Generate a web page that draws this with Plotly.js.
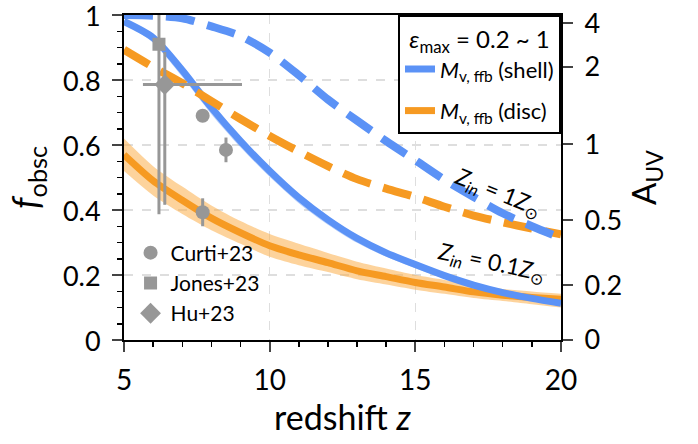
<!DOCTYPE html>
<html>
<head>
<meta charset="utf-8">
<script src="https://cdn.plot.ly/plotly-3.0.1.min.js"></script>
<style>
  html, body { margin: 0; padding: 0; background: #fff; }
  #chart { width: 698px; height: 444px; }
</style>
</head>
<body>
<div id="chart"></div>
<script>
// Redshift grid shared by all model curves
const redshift = [5, 6, 7, 8, 9, 10, 11, 12, 13, 14, 15, 16, 17, 18, 19, 20];

// Obscured fraction, shell geometry, Z_in = 0.1 Zsun (line and band)
const shellLowZ   = [0.980, 0.930, 0.830, 0.715, 0.612, 0.520, 0.438, 0.370, 0.313, 0.268, 0.232, 0.198, 0.169, 0.146, 0.128, 0.113];
const shellLowZLo = [0.975, 0.915, 0.810, 0.695, 0.593, 0.502, 0.421, 0.355, 0.299, 0.256, 0.221, 0.189, 0.161, 0.139, 0.122, 0.107];
const shellLowZHi = [0.985, 0.935, 0.835, 0.720, 0.617, 0.525, 0.443, 0.374, 0.317, 0.272, 0.236, 0.201, 0.172, 0.149, 0.130, 0.115];

// Obscured fraction, disc geometry, Z_in = 0.1 Zsun (line and band)
const discLowZ   = [0.570, 0.490, 0.430, 0.375, 0.330, 0.290, 0.262, 0.238, 0.213, 0.195, 0.177, 0.163, 0.148, 0.138, 0.131, 0.125];
const discLowZLo = [0.520, 0.445, 0.388, 0.338, 0.296, 0.256, 0.230, 0.209, 0.187, 0.171, 0.155, 0.142, 0.129, 0.120, 0.110, 0.100];
const discLowZHi = [0.620, 0.535, 0.472, 0.414, 0.366, 0.326, 0.296, 0.268, 0.241, 0.220, 0.200, 0.185, 0.169, 0.157, 0.149, 0.142];

// Obscured fraction, Z_in = 1 Zsun
const shellSolarZ = [1.000, 0.998, 0.990, 0.965, 0.935, 0.884, 0.815, 0.740, 0.675, 0.612, 0.553, 0.493, 0.440, 0.390, 0.350, 0.314];
const discSolarZ  = [0.893, 0.840, 0.790, 0.735, 0.680, 0.628, 0.580, 0.535, 0.495, 0.466, 0.440, 0.410, 0.383, 0.362, 0.343, 0.325];

// Observational constraints
const curtiZ = [7.7, 8.5, 7.7];
const curtiF = [0.69, 0.585, 0.393];
const curtiErr = [0.015, 0.038, 0.043];

const jonesZ = [6.2];
const jonesF = [0.91];
const jonesErrPlus = [0.15];
const jonesErrMinus = [0.523];

const huZ = [6.4];
const huF = [0.786];
const huZErrPlus = [2.65];
const huZErrMinus = [0.75];
const huErrPlus = [0.10];
const huErrMinus = [0.37];

// Axis ticks
const fTicks = [0, 0.2, 0.4, 0.6, 0.8, 1];
const fTickText = ['0', '0.2', '0.4', '0.6', '0.8', '1'];
const zTicks = [5, 10, 15, 20];
const auvTicks = [0, 0.2, 0.5, 1, 2, 4];
const auvTickText = ['0', '0.2', '0.5', '1', '2', '4'];

// Right axis: A_UV mapped onto f_obsc = 1 - 10^(-0.4 A_UV)
const auvTickPos = auvTicks.map(a => 1 - Math.pow(10, -0.4 * a));

const BLUE = '#5b92f6';
const ORANGE = '#f69a22';
const BLUE_BAND = 'rgba(91,146,246,0.45)';
const ORANGE_BAND = 'rgba(252,175,75,0.55)';
const GREY = '#979797';
const FONT = 'Lato, "Noto Sans", sans-serif';

function band(lo, hi, color) {
  return [
    { x: redshift, y: lo, mode: 'lines', line: { width: 0, shape: 'spline', smoothing: 0.8 },
      showlegend: false, hoverinfo: 'skip' },
    { x: redshift, y: hi, mode: 'lines', line: { width: 0, shape: 'spline', smoothing: 0.8 },
      fill: 'tonexty', fillcolor: color, showlegend: false, hoverinfo: 'skip' }
  ];
}

const traces = [
  ...band(discLowZLo, discLowZHi, ORANGE_BAND),
  ...band(shellLowZLo, shellLowZHi, BLUE_BAND),
  { x: redshift, y: discLowZ, mode: 'lines', name: '<i>M</i><sub>v, ffb</sub> (disc)',
    line: { color: ORANGE, width: 7, shape: 'spline', smoothing: 0.8 },
    legend: 'legend2', legendrank: 2, legendgroup: 'disc' },
  { x: redshift, y: shellLowZ, mode: 'lines', name: '<i>M</i><sub>v, ffb</sub> (shell)',
    line: { color: BLUE, width: 7, shape: 'spline', smoothing: 0.8 },
    legend: 'legend2', legendrank: 1, legendgroup: 'shell' },
  { x: redshift, y: discSolarZ, mode: 'lines', showlegend: false,
    line: { color: ORANGE, width: 8, dash: '29px,13px', shape: 'spline', smoothing: 0.8 } },
  { x: redshift, y: shellSolarZ, mode: 'lines', showlegend: false,
    line: { color: BLUE, width: 8, dash: '29px,13px', shape: 'spline', smoothing: 0.8 } },
  { x: curtiZ, y: curtiF, mode: 'markers', name: 'Curti+23', legendrank: 1,
    marker: { symbol: 'circle', size: 14, color: GREY },
    error_y: { type: 'data', array: curtiErr, color: GREY, thickness: 3, width: 0 } },
  { x: jonesZ, y: jonesF, mode: 'markers', name: 'Jones+23', legendrank: 2,
    marker: { symbol: 'square', size: 13, color: GREY },
    error_y: { type: 'data', symmetric: false, array: jonesErrPlus, arrayminus: jonesErrMinus,
               color: GREY, thickness: 3, width: 0 } },
  { x: huZ, y: huF, mode: 'markers', name: 'Hu+23', legendrank: 3,
    marker: { symbol: 'diamond', size: 16, color: GREY },
    error_x: { type: 'data', symmetric: false, array: huZErrPlus, arrayminus: huZErrMinus,
               color: GREY, thickness: 3, width: 0 },
    error_y: { type: 'data', symmetric: false, array: huErrPlus, arrayminus: huErrMinus,
               color: GREY, thickness: 3, width: 0 } },
  // carries the right-hand A_UV axis
  { x: [null], y: [null], yaxis: 'y2', mode: 'lines', showlegend: false, hoverinfo: 'skip' }
];

const gridStyle = { showgrid: true, gridcolor: '#dedede', gridwidth: 1.3, griddash: 'dash' };

const layout = {
  width: 698, height: 444,
  margin: { l: 124, r: 137, t: 15, b: 104 },
  paper_bgcolor: '#fff', plot_bgcolor: '#fff',
  font: { family: FONT, color: '#000' },
  showlegend: true,
  xaxis: Object.assign({
    range: [5, 20], tickvals: zTicks, ticks: 'outside', ticklen: 10, tickwidth: 2,
    showline: true, linewidth: 2, linecolor: '#000', mirror: true, zeroline: false,
    tickfont: { size: 28 }, ticklabelstandoff: 4, ticklabeloverflow: 'allow',
    minor: { dtick: 1, ticks: 'outside', ticklen: 5, tickwidth: 1.5, tickcolor: '#000', showgrid: false },
    title: { text: 'redshift <i>z</i>', font: { size: 34 }, standoff: 8 }
  }, gridStyle),
  yaxis: Object.assign({
    range: [0, 1], tickvals: fTicks, ticktext: fTickText, ticks: 'outside', ticklen: 10, tickwidth: 2,
    showline: true, linewidth: 2, linecolor: '#000', zeroline: false,
    tickfont: { size: 27 }, ticklabelstandoff: 6, ticklabeloverflow: 'allow', ticklabelshift: 2,
    minor: { dtick: 0.05, ticks: 'outside', ticklen: 5, tickwidth: 1.5, tickcolor: '#000', showgrid: false },
    title: { text: '<i>f</i><sub>obsc</sub>', font: { size: 36 }, standoff: 12 }
  }, gridStyle),
  yaxis2: {
    overlaying: 'y', side: 'right', range: [0, 1],
    tickvals: auvTickPos, ticktext: auvTickText, ticks: 'outside', ticklen: 10, tickwidth: 2,
    showline: true, linewidth: 2, linecolor: '#000', showgrid: false, zeroline: false,
    tickfont: { size: 27 }, ticklabelstandoff: 6, ticklabeloverflow: 'allow',
    title: { text: 'A<sub>UV</sub>', font: { size: 33 }, standoff: 12 }
  },
  legend: {
    x: 0.015, y: 0.02, xanchor: 'left', yanchor: 'bottom',
    bgcolor: 'rgba(0,0,0,0)', font: { size: 21 }, traceorder: 'normal',
    itemwidth: 30
  },
  legend2: {
    x: 1, y: 1, xanchor: 'right', yanchor: 'top',
    bgcolor: '#fff', bordercolor: '#000', borderwidth: 2,
    font: { size: 22 }, traceorder: 'grouped', tracegroupgap: 10,
    title: { text: '<i>ε</i><sub>max</sub> = 0.2 ~ 1', side: 'top center', font: { size: 24 } }
  },
  annotations: [
    { x: 17.85, y: 0.455, xref: 'x', yref: 'y', showarrow: false, textangle: 22,
      text: '<i>Z</i><sub><i>in</i></sub> = 1<i>Z</i><sub>⊙</sub>', font: { size: 23 } },
    { x: 17.6, y: 0.24, xref: 'x', yref: 'y', showarrow: false, textangle: 12,
      text: '<i>Z</i><sub><i>in</i></sub> = 0.1<i>Z</i><sub>⊙</sub>', font: { size: 23 } }
  ]
};

Plotly.newPlot('chart', traces, layout, { staticPlot: true, displayModeBar: false });
</script>
</body>
</html>
